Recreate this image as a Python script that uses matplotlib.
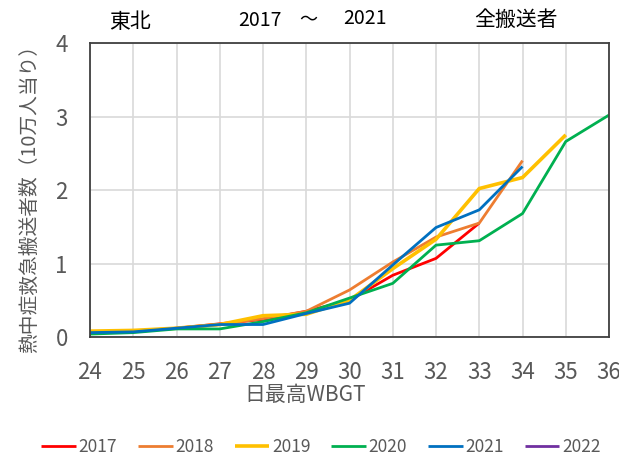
import matplotlib
matplotlib.use("Agg")
import matplotlib.pyplot as plt

plt.rcParams['font.family'] = ['Noto Sans CJK JP', 'DejaVu Sans']

wbgt = [24, 25, 26, 27, 28, 29, 30, 31, 32, 33, 34, 35, 36]
years = ['2017', '2018', '2019', '2020', '2021', '2022']
colors = ['#FF0000', '#ED7D31', '#FFC000', '#00B050', '#0070C0', '#7030A0']

v2017 = [0.07, 0.08, 0.12, 0.18, 0.24, 0.35, 0.50, 0.84, 1.07, 1.55]
v2018 = [0.07, 0.08, 0.12, 0.17, 0.25, 0.35, 0.64, 1.02, 1.36, 1.55, 2.40]
v2019 = [0.08, 0.09, 0.12, 0.17, 0.29, 0.31, 0.50, 0.93, 1.33, 2.02, 2.17, 2.75]
v2020 = [0.04, 0.06, 0.11, 0.11, 0.21, 0.33, 0.53, 0.73, 1.25, 1.31, 1.68, 2.66, 3.02]
v2021 = [0.06, 0.07, 0.12, 0.17, 0.17, 0.32, 0.46, 0.98, 1.49, 1.73, 2.32]
v2022 = []
series = [v2017, v2018, v2019, v2020, v2021, v2022]

fig = plt.figure(figsize=(6.19, 4.55), dpi=100)
ax = fig.add_axes([0.1454, 0.2593, 0.8385, 0.6462])

for yr, col, vals in zip(years, colors, series):
    lw = 2.6 if yr == '2019' else 2.0
    ax.plot(wbgt[:len(vals)], vals, color=col, lw=lw, label=yr, solid_capstyle='butt')

ax.set_xlim(24, 36)
ax.set_ylim(0, 4)
ax.set_xticks(wbgt)
ax.set_yticks([0, 1, 2, 3, 4])
ax.grid(True, color='#D9D9D9', lw=1.2)
ax.set_axisbelow(True)
for s in ax.spines.values():
    s.set_color('#404040')
    s.set_linewidth(1.3)
ax.tick_params(length=0, labelsize=16, labelcolor='#595959')
ax.tick_params(axis='y', pad=16)
ax.tick_params(axis='x', pad=17)

ax.set_xlabel('日最高WBGT', fontsize=15, color='#595959')
ax.xaxis.set_label_coords((305 - 90) / 519, -(395 - 337) / 294)
ax.set_ylabel('熱中症救急搬送者数（10万人当り）', fontsize=14.2, color='#595959')
ax.yaxis.set_label_coords((30 - 90) / 519, (337 - 194) / 294)
ax.xaxis.label.set_va('center')
ax.yaxis.label.set_va('center')

fig.text(130 / 619, 1 - 22 / 455, '東北', fontsize=15, ha='center', va='center', color='black')
fig.text(238 / 619, 1 - 20 / 455, '2017', fontsize=14, ha='left', va='center', color='black')
fig.text(308 / 619, 1 - 20 / 455, '～', fontsize=13, ha='center', va='center', color='black')
fig.text(343 / 619, 1 - 19 / 455, '2021', fontsize=14, ha='left', va='center', color='black')
fig.text(516 / 619, 1 - 20 / 455, '全搬送者', fontsize=15, ha='center', va='center', color='black')

leg = fig.legend(loc='center', bbox_to_anchor=(321 / 619, 1 - 447 / 455), ncol=6, frameon=False,
                 fontsize=12.5, handlelength=2.0, handletextpad=0.15, columnspacing=1.2)
for t in leg.get_texts():
    t.set_color('#595959')

fig.savefig('out.png', dpi=100)
